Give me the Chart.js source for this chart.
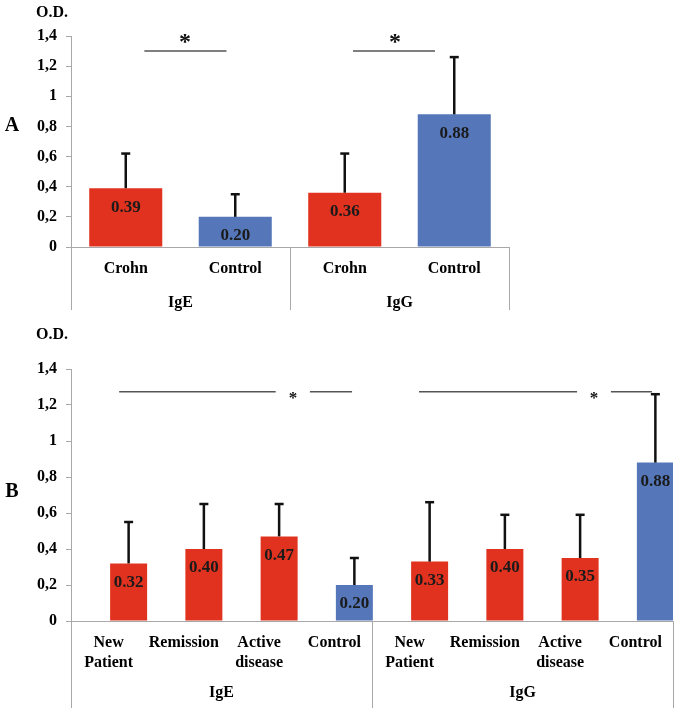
<!DOCTYPE html>
<html><head><meta charset="utf-8">
<script src="https://cdn.jsdelivr.net/npm/chart.js@4/dist/chart.umd.min.js"></script>
<style>
html,body{margin:0;padding:0;background:#fff;width:679px;height:708px;overflow:hidden}
canvas{position:absolute;left:0}
#cA{top:0;width:679px;height:320px}
#cB{top:320px;width:679px;height:388px}
</style></head>
<body>
<canvas id="cA" width="679" height="320"></canvas>
<canvas id="cB" width="679" height="388"></canvas>
<script>
// ---------- data ----------
const yTickLabels = ['0','0,2','0,4','0,6','0,8','1','1,2','1,4'];

const topCategories = ['Crohn','Control','Crohn','Control'];
const topGroups = ['IgE','IgG'];
const topMeans = [0.39, 0.20, 0.36, 0.88];
const topErrTop = [0.62, 0.35, 0.62, 1.26];

const botCategories = [['New','Patient'],'Remission',['Active','disease'],'Control',
                       ['New','Patient'],'Remission',['Active','disease'],'Control'];
const botGroups = ['IgE','IgG'];
const botMeans = [0.32, 0.40, 0.47, 0.20, 0.33, 0.40, 0.35, 0.88];
const botErrTop = [0.55, 0.65, 0.65, 0.35, 0.66, 0.59, 0.59, 1.26];

// ---------- styles ----------
const FONT = "'Liberation Serif','Times New Roman',serif";
const RED = '#E0321F', BLUE = '#5577B9', AX = '#a8a8a8';
const topColors = [RED, BLUE, RED, BLUE];
const botColors = [RED, RED, RED, BLUE, RED, RED, RED, BLUE];

// significance brackets in (category index, value) units
const topBrackets = [
  {segs:[[0.17,0.92]], y:1.30, star:[0.54,1.393]},
  {segs:[[2.075,2.824]], y:1.30, star:[2.46,1.393]}
];
const botBrackets = [
  {segs:[[0.14,2.22],[2.675,3.235]], y:1.274, star:[2.45,1.256]},
  {segs:[[4.125,6.225],[6.675,7.22]], y:1.274, star:[6.45,1.256]}
];

const decor = {
  id: 'decor',
  afterDatasetsDraw(chart, args, o) {
    const ctx = chart.ctx, y = chart.scales.y;
    const meta = chart.getDatasetMeta(o.dsIndex);
    ctx.save();
    ctx.strokeStyle = '#111'; ctx.lineWidth = 2.5; ctx.lineCap = 'butt';
    meta.data.forEach((el, i) => {
      const yt = y.getPixelForValue(o.errTop[i]);
      ctx.beginPath(); ctx.moveTo(el.x, el.y); ctx.lineTo(el.x, yt); ctx.stroke();
      ctx.beginPath(); ctx.moveTo(el.x - 4.5, yt); ctx.lineTo(el.x + 4.5, yt); ctx.stroke();
    });
    ctx.fillStyle = '#1a1a1a';
    ctx.font = 'bold 17px ' + FONT;
    ctx.textAlign = 'center'; ctx.textBaseline = 'middle';
    meta.data.forEach((el, i) => {
      ctx.fillText(o.means[i].toFixed(2), el.x, el.y + 19);
    });
    ctx.restore();
  },
  afterDraw(chart, args, o) {
    const ctx = chart.ctx, x = chart.scales.x, y = chart.scales.y, ca = chart.chartArea;
    const p0 = x.getPixelForValue(0), step = x.getPixelForValue(1) - p0;
    const px = i => p0 + i * step;
    ctx.save();
    // dividers
    ctx.strokeStyle = AX; ctx.lineWidth = 1;
    const n = o.perGroup;
    const divs = [ca.left, px(n - 0.5), ca.right];
    divs.forEach(d => {
      const xx = Math.round(d) + 0.5;
      ctx.beginPath(); ctx.moveTo(xx, ca.bottom); ctx.lineTo(xx, ca.bottom + o.divLen); ctx.stroke();
    });
    // group labels
    ctx.fillStyle = '#000';
    ctx.font = 'bold 16px ' + FONT;
    ctx.textAlign = 'center'; ctx.textBaseline = 'middle';
    o.groups.forEach((g, gi) => {
      ctx.fillText(g, px(gi * n + (n - 1) / 2), ca.bottom + o.groupDy);
    });
    // brackets
    ctx.strokeStyle = '#555'; ctx.lineWidth = 1.5;
    o.brackets.forEach(b => {
      const yy = y.getPixelForValue(b.y);
      b.segs.forEach(s => {
        ctx.beginPath(); ctx.moveTo(px(s[0]), yy); ctx.lineTo(px(s[1]), yy); ctx.stroke();
      });
      ctx.fillStyle = '#111';
      ctx.font = 'bold ' + o.starSize + 'px ' + FONT;
      ctx.textBaseline = 'alphabetic';
      ctx.fillText('*', px(b.star[0]), y.getPixelForValue(b.star[1]) + o.starSize * 0.5);
    });
    // panel letter + unit
    ctx.fillStyle = '#000';
    ctx.textBaseline = 'middle';
    ctx.font = 'bold 16px ' + FONT;
    ctx.fillText('O.D.', 52, o.odY);
    ctx.font = 'bold 20px ' + FONT;
    ctx.fillText(o.letter, 12, o.letterY);
    ctx.restore();
  }
};

function axes(xH) {
  return {
    x: {
      type: 'category', offset: true,
      grid: {display: false, drawTicks: false},
      border: {display: true, color: AX, width: 1},
      ticks: {font: {family: FONT, size: 16, weight: 'bold', lineHeight: 1.25}, color: '#000',
              padding: 12, maxRotation: 0, autoSkip: false},
      afterFit: s => { s.height = xH; }
    },
    y: {
      min: 0, max: 1.4,
      ticks: {stepSize: 0.2, callback: v => yTickLabels[Math.round(v / 0.2)],
              font: {family: FONT, size: 16, weight: 'bold'}, color: '#000', padding: 9},
      grid: {drawOnChartArea: false, drawTicks: true, tickLength: 5, color: AX},
      border: {display: true, color: AX, width: 1},
      afterFit: s => { s.width = 71; }
    }
  };
}

new Chart(document.getElementById('cA'), {
  type: 'bar',
  data: {
    labels: topCategories,
    datasets: [{data: topMeans, backgroundColor: topColors, borderWidth: 0,
                barPercentage: 0.667, categoryPercentage: 1.0}]
  },
  options: {
    responsive: false, animation: false, devicePixelRatio: 1,
    layout: {padding: {left: 0, top: 36, right: 170, bottom: 0}},
    plugins: {legend: {display: false}, tooltip: {enabled: false},
      decor: {dsIndex: 0, means: topMeans, errTop: topErrTop, groups: topGroups, perGroup: 2,
              divLen: 63, groupDy: 56, brackets: topBrackets, starSize: 24,
              letter: 'A', letterY: 126, odY: 13}},
    scales: axes(73)
  },
  plugins: [decor]
});

new Chart(document.getElementById('cB'), {
  type: 'bar',
  data: {
    labels: botCategories,
    datasets: [
      {data: botMeans.map(() => null), backgroundColor: 'rgba(0,0,0,0)', borderWidth: 0,
       barPercentage: 0.925, categoryPercentage: 1.063},
      {data: botMeans, backgroundColor: botColors, borderWidth: 0,
       barPercentage: 0.925, categoryPercentage: 1.063}
    ]
  },
  options: {
    responsive: false, animation: false, devicePixelRatio: 1,
    layout: {padding: {left: 0, top: 49, right: 6, bottom: 0}},
    plugins: {legend: {display: false}, tooltip: {enabled: false},
      decor: {dsIndex: 1, means: botMeans, errTop: botErrTop, groups: botGroups, perGroup: 4,
              divLen: 87, groupDy: 72, brackets: botBrackets, starSize: 17,
              letter: 'B', letterY: 172, odY: 15}},
    scales: axes(87)
  },
  plugins: [decor]
});
</script>
</body></html>
